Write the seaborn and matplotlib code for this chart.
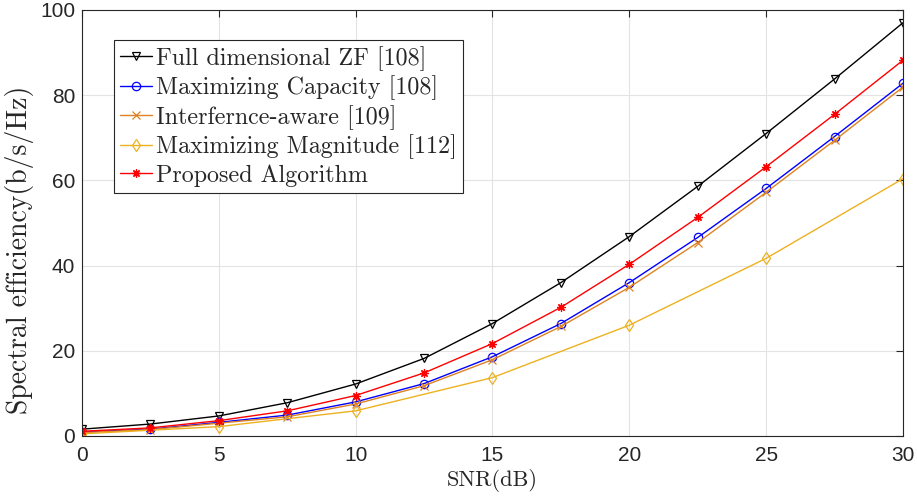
import numpy as np
import pandas as pd
import matplotlib
matplotlib.use("Agg")
import matplotlib.pyplot as plt
import seaborn as sns

# -----------------------------
# Data
# -----------------------------
snr = [0, 2.5, 5, 7.5, 10, 12.5, 15, 17.5, 20, 22.5, 25, 27.5, 30]
snr_coarse = [0, 5, 10, 15, 20, 25, 30]

full_zf = [1.6, 2.8, 4.7, 7.8, 12.2, 18.2, 26.4, 36.0, 46.8, 58.6, 71.0, 83.8, 97.0]
max_capacity = [0.9, 1.6, 3.2, 4.9, 8.0, 12.3, 18.6, 26.4, 36.0, 46.6, 58.1, 70.3, 82.8]
interf_aware = [0.8, 1.5, 3.0, 4.5, 7.5, 11.8, 17.9, 25.7, 34.9, 45.4, 57.2, 69.4, 81.9]
max_magnitude = [0.5, 2.2, 5.9, 13.7, 26.0, 41.7, 60.4]
proposed = [1.1, 1.9, 3.6, 5.9, 9.5, 14.8, 21.7, 30.2, 40.3, 51.3, 63.2, 75.5, 88.2]

labels = ["Full dimensional ZF [108]", "Maximizing Capacity [108]",
          "Interfernce-aware [109]", "Maximizing Magnitude [112]",
          "Proposed Algorithm"]

# -----------------------------
# Style
# -----------------------------
sns.set_style("whitegrid")
plt.rcParams["font.family"] = ["Liberation Sans", "DejaVu Sans"]

fig = plt.figure(figsize=(9.17, 4.99), dpi=100)
ax = fig.add_axes([0.0894, 0.1263, 0.8953, 0.8537])

series = [
    (snr, full_zf, "#000000", "v", "none"),
    (snr, max_capacity, "#0000FF", "o", "none"),
    (snr, interf_aware, "#DE8223", "x", "#DE8223"),
    (snr_coarse, max_magnitude, "#EDB120", "d", "none"),
    (snr, proposed, "#FF0000", (8, 2, 0), "#FF0000"),
]

for (x, y, color, marker, face), label in zip(series, labels):
    df = pd.DataFrame({"SNR": x, "SE": y})
    sns.lineplot(data=df, x="SNR", y="SE", ax=ax, color=color, marker=marker,
                 markersize=6, markerfacecolor=face, markeredgecolor=color,
                 markeredgewidth=0.9, linewidth=1.0, label=label)

# -----------------------------
# Axes
# -----------------------------
ax.set_xlim(0, 30)
ax.set_ylim(0, 100)
ax.set_xticks(np.arange(0, 31, 5))
ax.set_yticks(np.arange(0, 101, 20))
ax.grid(True, color="#e3e3e3", linewidth=0.8)
for s in ax.spines.values():
    s.set_color("#262626")
    s.set_linewidth(0.8)
ax.tick_params(direction="in", length=5, width=0.8, color="#262626",
               top=True, right=True, labelsize=15, labelcolor="#262626")
ax.tick_params(axis="x", pad=7)
ax.tick_params(axis="y", pad=5)

ax.set_xlabel("SNR(dB)", family="cmr10", fontsize=16, labelpad=3)
ax.set_ylabel("Spectral efficiency(b/s/Hz)", family="cmr10", fontsize=20)
ax.yaxis.set_label_coords(-0.058, 0.437)

leg = ax.legend(loc="upper left", bbox_to_anchor=(0.039, 0.93), borderaxespad=0,
                prop={"family": "cmr10", "size": 17.3}, frameon=True, fancybox=False,
                handlelength=1.35, handletextpad=0.15, labelspacing=0.2,
                borderpad=0.25)
leg.get_frame().set_edgecolor("#262626")
leg.get_frame().set_linewidth(0.8)
leg.get_frame().set_alpha(1)

plt.savefig("out.png", dpi=100)
plt.close()
